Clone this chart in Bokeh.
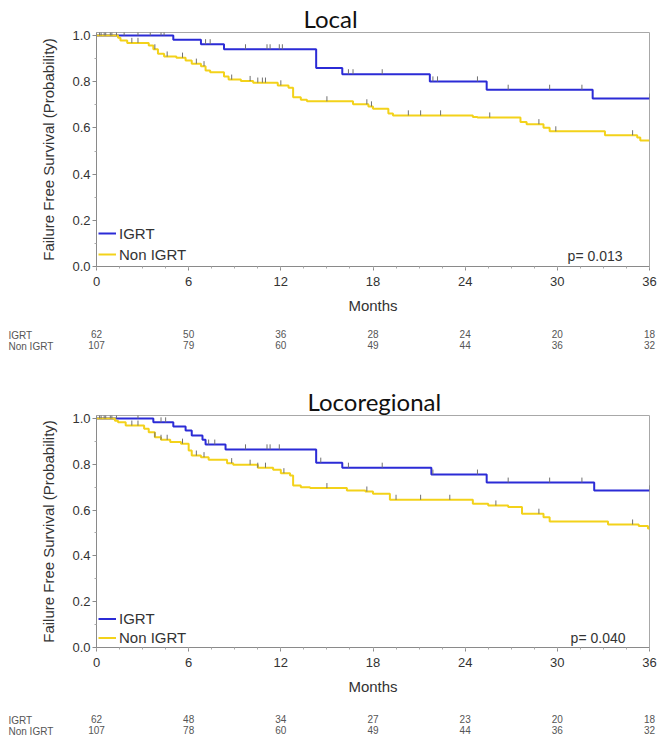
import numpy as np
from bokeh.plotting import figure
from bokeh.layouts import column
from bokeh.models import (Range1d, FixedTicker, NumeralTickFormatter, Legend, LegendItem,
                          Label, Title, LinearAxis)
from bokeh.embed import file_html
from bokeh.resources import INLINE

# ---------------- data ----------------
months_ticks = [0, 6, 12, 18, 24, 30, 36]

# Local panel
local_igrt_t = [0, 5.0, 6.8, 8.3, 14.3, 16.0, 21.7, 25.4, 32.3, 36]
local_igrt_s = [1.0, 0.982, 0.962, 0.94, 0.859, 0.832, 0.801, 0.765, 0.727, 0.727]
local_non_t = [0, 1.4, 1.56, 2.0, 3.4, 3.7, 4.0, 4.4, 5.2, 5.8, 6.2, 6.8, 7.1, 7.4, 8.3, 8.6,
               9.4, 10.2, 11.8, 12.5, 12.8, 13.3, 13.7, 16.7, 17.7, 18.0, 19.0, 19.3, 24.5,
               24.8, 27.6, 28.0, 29.1, 29.5, 33.1, 35.2, 35.4, 36]
local_non_s = [1.0, 0.99, 0.978, 0.968, 0.957, 0.94, 0.921, 0.909, 0.904, 0.892, 0.878, 0.867,
               0.849, 0.841, 0.823, 0.809, 0.803, 0.796, 0.784, 0.774, 0.733, 0.722, 0.715,
               0.702, 0.693, 0.683, 0.662, 0.654, 0.647, 0.645, 0.626, 0.616, 0.601, 0.585,
               0.568, 0.558, 0.546, 0.546]
local_igrt_cens = [0.3, 0.6, 0.9, 1.3, 1.8, 2.7, 3.5, 4.2, 4.4, 7.1, 7.4, 9.7, 11.1, 11.3, 11.9,
                   12.1, 16.4, 16.7, 18.6, 21.9, 22.2, 24.8, 26.8, 29.5, 31.6, 36.0]
local_non_cens = [0.2, 0.5, 1.0, 2.3, 2.7, 3.8, 4.6, 5.6, 6.5, 7.0, 8.8, 10.0, 10.5, 10.8, 11.0,
                  12.0, 15.0, 17.6, 17.9, 20.3, 21.1, 22.4, 25.6, 28.8, 29.9, 34.9]
local_risk_igrt = [62, 50, 36, 28, 24, 20, 18]
local_risk_non = [107, 79, 60, 49, 44, 36, 32]
local_p = "p= 0.013"

# Locoregional panel
loco_igrt_t = [0, 3.7, 5.0, 5.8, 6.2, 6.9, 7.1, 8.4, 14.3, 16.0, 21.8, 25.4, 32.4, 36]
loco_igrt_s = [1.0, 0.983, 0.965, 0.948, 0.926, 0.907, 0.886, 0.865, 0.807, 0.785, 0.755,
               0.72, 0.686, 0.686]
loco_non_t = [0, 1.2, 1.4, 1.9, 3.1, 3.4, 3.8, 4.2, 4.8, 5.5, 6.0, 6.2, 6.8, 7.3, 8.5, 8.9,
              10.5, 11.5, 12.0, 12.6, 12.8, 13.3, 13.9, 16.3, 17.5, 18.0, 19.1, 24.5, 25.5,
              26.8, 27.7, 29.1, 29.5, 33.3, 35.3, 35.9, 36]
loco_non_s = [1.0, 0.99, 0.983, 0.969, 0.955, 0.94, 0.918, 0.907, 0.897, 0.89, 0.86, 0.838,
              0.831, 0.82, 0.805, 0.798, 0.785, 0.776, 0.761, 0.751, 0.707, 0.70, 0.696,
              0.686, 0.681, 0.671, 0.645, 0.628, 0.62, 0.613, 0.584, 0.569, 0.55, 0.537,
              0.53, 0.52, 0.52]
loco_igrt_cens = [0.3, 0.6, 0.9, 1.3, 2.7, 4.2, 4.5, 7.3, 7.7, 9.7, 11.1, 11.3, 11.9, 14.6,
                  16.4, 18.6, 21.9, 24.8, 26.8, 29.5, 31.6, 36.0]
loco_non_cens = [0.2, 0.5, 1.0, 2.3, 2.7, 3.8, 4.2, 4.6, 5.6, 6.5, 7.0, 8.8, 10.0, 10.5, 11.0,
                 12.2, 15.0, 17.6, 19.5, 21.1, 23.0, 26.0, 28.8, 34.9]
loco_risk_igrt = [62, 48, 34, 27, 23, 20, 18]
loco_risk_non = [107, 78, 60, 49, 44, 36, 32]
loco_p = "p= 0.040"

groups = ["IGRT", "Non IGRT"]

# ---------------- style ----------------
BLUE = "#2b2bd6"
YELLOW = "#f3d21a"
FONT = "Liberation Sans"
LEFT = 96
FRAME_W = 553
RIGHT = 15
W = LEFT + FRAME_W + RIGHT
X0, X1 = 0, 36
PX_PER_MONTH = FRAME_W / (X1 - X0)


def surv_at(ts, ss, c):
    i = np.searchsorted(np.array(ts), np.array(c), side="right") - 1
    return np.array(ss)[i]


def km_panel(title, t_off, height, top, bottom, it, is_, nt, ns, ic, nc, ptext,
             leg_h, leg_sp, leg_y, p_off):
    p = figure(width=W, height=height, output_backend="svg", toolbar_location=None,
               x_range=Range1d(X0, X1), y_range=Range1d(0, 1.013),
               min_border_left=LEFT, min_border_right=RIGHT,
               min_border_top=top, min_border_bottom=bottom)
    p.title = Title(text=title, text_font="Lato", text_font_size="24px",
                    text_font_style="normal", text_color="#111", align="left",
                    offset=t_off, standoff=0)
    p.grid.visible = False
    p.outline_line_color = "#a8a8a8"
    p.outline_line_width = 1
    p.background_fill_color = "white"
    p.border_fill_color = "white"

    r1 = p.step(it, is_, mode="after", line_color=BLUE, line_width=2)
    r2 = p.step(nt, ns, mode="after", line_color=YELLOW, line_width=2)
    cy1 = surv_at(it, is_, ic)
    cy2 = surv_at(nt, ns, nc)
    p.segment(x0=ic, y0=cy1, x1=ic, y1=cy1 + 0.022, line_color="#707070", line_width=1)
    p.segment(x0=nc, y0=cy2, x1=nc, y1=cy2 + 0.022, line_color="#707070", line_width=1)

    leg = Legend(items=[LegendItem(label=groups[0], renderers=[r1]),
                        LegendItem(label=groups[1], renderers=[r2])],
                 location=(2, leg_y), padding=0, margin=0, spacing=leg_sp,
                 glyph_width=18, glyph_height=leg_h, label_height=leg_h, label_standoff=3,
                 label_text_font=FONT, label_text_font_size="15px",
                 label_text_color="#333", background_fill_alpha=0, border_line_alpha=0)
    p.add_layout(leg)

    p.add_layout(Label(x=X1, y=0, x_offset=-p_off[0], y_offset=p_off[1], text=ptext,
                       text_align="right", text_baseline="middle",
                       text_font=FONT, text_font_size="14px", text_color="#333"))

    xa = p.xaxis[0]
    xa.ticker = FixedTicker(ticks=months_ticks,
                            minor_ticks=list(np.arange(0, 36.1, 1.5)))
    xa.axis_label = "Months"
    ya = p.yaxis[0]
    ya.ticker = FixedTicker(ticks=[0, 0.2, 0.4, 0.6, 0.8, 1.0],
                            minor_ticks=[0.1, 0.3, 0.5, 0.7, 0.9])
    ya.formatter = NumeralTickFormatter(format="0.0")
    ya.axis_label = "Failure Free Survival (Probability)"
    for ax in (xa, ya):
        ax.axis_line_color = "#8a8a8a"
        ax.major_tick_line_color = "#8a8a8a"
        ax.minor_tick_line_color = "#aaaaaa"
        ax.major_tick_out = 4
        ax.major_tick_in = 0
        ax.minor_tick_out = 2
        ax.minor_tick_in = 0
        ax.major_label_text_font = FONT
        ax.major_label_text_font_size = "13px"
        ax.major_label_text_color = "#333"
        ax.axis_label_text_font = FONT
        ax.axis_label_text_font_style = "normal"
        ax.axis_label_text_color = "#333"
    xa.axis_label_text_font_size = "15px"
    ya.axis_label_text_font_size = "15px"
    xa.major_label_standoff = 6
    xa.axis_label_standoff = 8
    ya.major_label_standoff = 2
    ya.axis_label_standoff = 12
    return p


def risk_table(height, top, r_igrt, r_non):
    # frame is 1px tall with a 0..1 y-range, so one y unit equals one pixel
    t = figure(width=W, height=height, output_backend="svg", toolbar_location=None,
               x_range=Range1d(X0, X1), y_range=Range1d(0, 1),
               x_axis_location=None, y_axis_location=None,
               min_border_left=LEFT, min_border_right=RIGHT,
               min_border_top=top, min_border_bottom=height - top - 1)
    t.grid.visible = False
    t.outline_line_color = None
    t.background_fill_color = "white"
    t.border_fill_color = "white"
    for counts in (r_igrt, r_non):
        ax = LinearAxis(ticker=FixedTicker(ticks=months_ticks, minor_ticks=[]),
                        major_label_overrides={m: str(c) for m, c in zip(months_ticks, counts)})
        ax.axis_line_color = None
        ax.major_tick_line_color = None
        ax.minor_tick_line_color = None
        ax.major_tick_out = 0
        ax.major_tick_in = 0
        ax.minor_tick_out = 0
        ax.minor_tick_in = 0
        ax.major_label_standoff = 0
        ax.major_label_text_font = FONT
        ax.major_label_text_font_size = "10px"
        ax.major_label_text_color = "#555"
        t.add_layout(ax, "below")
    x_lab = X0 - (LEFT - 8) / PX_PER_MONTH
    for g, dy in zip(groups, (-5.5, -16.5)):
        t.add_layout(Label(x=x_lab, y=dy, text=g,
                           text_align="left", text_baseline="middle", text_font=FONT,
                           text_font_size="10px", text_color="#555"), "left")
    return t


p1 = km_panel("Local", 207, 318, 32, 52, local_igrt_t, local_igrt_s, local_non_t, local_non_s,
              local_igrt_cens, local_non_cens, local_p, 18, 3, 3, (27, 11))
t1 = risk_table(37, 10, local_risk_igrt, local_risk_non)
p2 = km_panel("Locoregional", 211, 345, 60, 53, loco_igrt_t, loco_igrt_s, loco_non_t, loco_non_s,
              loco_igrt_cens, loco_non_cens, loco_p, 17, 2, 1, (24, 10))
t2 = risk_table(42, 13, loco_risk_igrt, loco_risk_non)

layout = column(p1, t1, p2, t2, spacing=0)
open("out.html", "w").write(file_html(layout, INLINE))
